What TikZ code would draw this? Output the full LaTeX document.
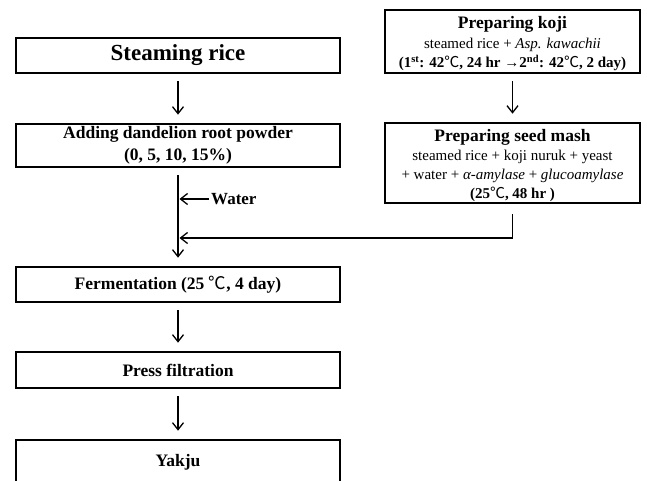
\documentclass[tikz,border=0pt]{standalone}
\usepackage{fontspec}
\setmainfont{Liberation Serif}
\newfontfamily\cjk{Noto Sans CJK KR}
\usetikzlibrary{arrows.meta}
\newcommand{\degC}{{\cjk\mdseries ℃}}
\newcommand{\headfont}{\fontsize{17.5}{20}\selectfont\bfseries}

\begin{document}
\begin{tikzpicture}[x=1pt, y=-1pt,
    box/.style = {draw, line width=2.6pt, inner sep=0pt, align=center},
    lbox/.style = {box, minimum width=324pt, font=\fontsize{17.5}{21.5}\selectfont\bfseries},
    rbox/.style = {box, minimum width=255pt, font=\fontsize{15}{19}\selectfont},
    tip/.style = {-{Straight Barb[length=7pt, width=11pt, line width=1.3pt]}, line width=1.3pt},
    arr/.style = {tip, shorten <=7pt, shorten >=8pt}]
    \useasboundingbox (0,0) rectangle (647,481);
    % left column
    \node[lbox, minimum height=35pt] (steam) at (178,55.5) {\fontsize{23}{26}\selectfont Steaming rice};
    \node[lbox, minimum height=43pt] (dandelion) at (178,145.5) {Adding dandelion root powder\\ (0, 5, 10, 15\%)};
    \node[lbox, minimum height=35pt] (ferment) at (178,284.5) {Fermentation (25 \degC, 4 day)};
    \node[lbox, minimum height=36pt] (press) at (178,370) {Press filtration};
    \node[lbox, minimum height=44pt] (yakju) at (178,462) {Yakju};
    % right column
    \node[rbox, minimum height=63pt] (koji) at (512.5,41.5) {\rule{0pt}{17pt}{\headfont Preparing koji}\\[1pt]
        steamed rice + \textit{Asp. kawachii}\\
        {\bfseries (1\textsuperscript{st}: 42\degC, 24 hr →2\textsuperscript{nd}: 42\degC, 2 day)}};
    \node[rbox, minimum height=80pt] (seed) at (512.5,163) {\rule{0pt}{18pt}{\headfont Preparing seed mash}\\
        steamed rice + koji nuruk + yeast\\
        + water + \textit{α-amylase} + \textit{glucoamylase}\\
        {\bfseries (25\degC, 48 hr )}};
    \node[anchor=west, inner sep=2pt] (water) at (209,199) {\fontsize{17}{20}\selectfont\bfseries Water};
    \coordinate (join) at (512,238);
    % arrows
    \draw[arr] (steam) -- (dandelion);
    \draw[arr] (dandelion) -- (ferment);
    \draw[arr] (ferment) -- (press);
    \draw[arr] (press) -- (yakju);
    \draw[arr] (koji) -- (seed);
    \draw[tip, shorten >=1.5pt] (water.west) -- (water.west -| dandelion.south);
    \draw[tip, shorten >=1.5pt] ([yshift=-10pt]seed.south) |- (join -| dandelion.south);
\end{tikzpicture}
\end{document}
